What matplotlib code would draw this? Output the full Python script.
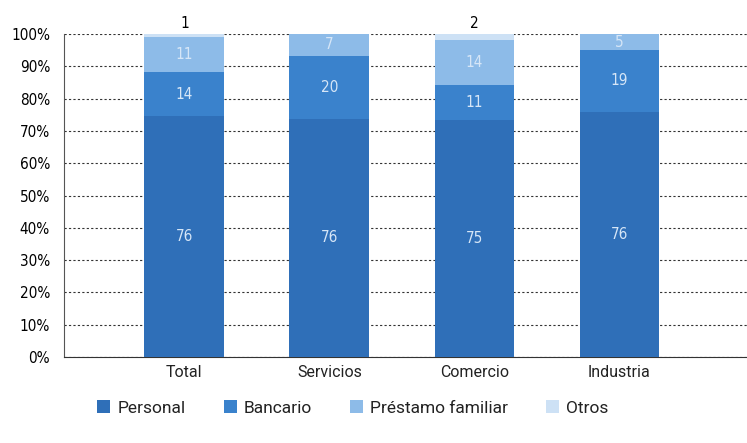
import matplotlib
matplotlib.use("Agg")
import matplotlib.pyplot as plt
import numpy as np
from matplotlib.patches import Patch

categories = ["Total", "Servicios", "Comercio", "Industria"]
personal = [76, 76, 75, 76]
bancario = [14, 20, 11, 19]
prestamo = [11, 7, 14, 5]
otros = [1, 0, 2, 0]
series_names = ["Personal", "Bancario", "Préstamo familiar", "Otros"]
yticks = [0, 10, 20, 30, 40, 50, 60, 70, 80, 90, 100]
ytick_labels = [f"{v}%" for v in yticks]

colors = ["#2f6fb8", "#3a82cc", "#8dbbe8", "#cde1f5"]
font = dict(family="DejaVu Sans", stretch="condensed")
font2 = dict(family="Roboto")

fig = plt.figure(figsize=(7.47, 4.43), dpi=100)
ax = fig.add_axes([64/747, 1-357/443, (747-64)/747, (357-34)/443])

data = np.array([personal, bancario, prestamo, otros], dtype=float)
totals = data.sum(axis=0)
shares = data / totals * 100
x = np.arange(len(categories))
bottom = np.zeros(len(categories))
width = 0.55
for i in range(4):
    ax.bar(x, shares[i], width, bottom=bottom, color=colors[i], zorder=3)
    for j in range(len(categories)):
        v = data[i, j]
        if v <= 0:
            continue
        if i < 3:
            ax.text(x[j], bottom[j] + shares[i, j] / 2, f"{int(v)}", ha="center", va="center",
                    color="#d6e6f7", fontsize=11, zorder=4, **font)
        else:
            ax.text(x[j], bottom[j] + shares[i, j] + 0.8, f"{int(v)}", ha="center", va="bottom",
                    color="black", fontsize=11, zorder=4, **font)
    bottom += shares[i]

ax.set_xlim(-0.83, 3.88)
ax.set_ylim(0, 100)
ax.set_yticks(yticks)
ax.set_yticklabels(ytick_labels, **font, fontsize=11)
ax.set_xticks(x)
ax.set_xticklabels(categories, **font2, fontsize=11.5, color="#222222")
ax.tick_params(axis="y", length=0, pad=10)
ax.tick_params(axis="x", length=0, pad=6)
ax.yaxis.grid(True, linestyle=(0, (2, 2)), color="#333333", linewidth=0.8, zorder=0)
ax.set_axisbelow(True)
for s in ["top", "right"]:
    ax.spines[s].set_visible(False)
ax.spines["left"].set_color("#555555")
ax.spines["bottom"].set_color("#333333")

handles = [Patch(facecolor=c, edgecolor="none") for c in colors]
fig.legend(handles, series_names, loc="center", bbox_to_anchor=(353/747, 1-408/443), ncol=4,
           frameon=False, prop=dict(family="Roboto", size=12.5),
           handlelength=0.75, handleheight=0.75, handletextpad=0.4, columnspacing=2.2,
           labelcolor="#222222")

fig.savefig("out.png", dpi=100)
